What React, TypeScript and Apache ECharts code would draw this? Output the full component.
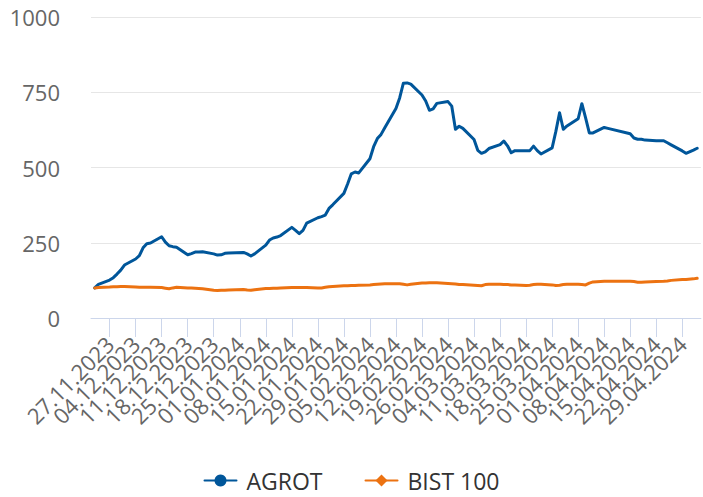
import React, { useEffect, useRef } from "react";
import * as echarts from "echarts";

// Non-trading days (BIST holidays) inside the period
const holidays = ["2024-01-01", "2024-04-10", "2024-04-11", "2024-04-12", "2024-04-23", "2024-05-01"];

// Indexed closing values (start = 100), one per trading day 23.11.2023 – 03.05.2024
const agrot = [
  100, 112,
  126, 134, 146, 159, 176,
  196, 207, 233, 247, 249,
  270, 252, 240, 237, 235,
  210, 214, 219, 219, 220,
  213, 209, 210, 215, 216,
  218, 213, 206, 213,
  242, 259, 266, 269, 274,
  301, 291, 280, 291, 315,
  333, 337, 342, 364, 376,
  414, 445, 479, 485, 482,
  529, 569, 596, 610, 632,
  696, 731, 780, 781, 777,
  741, 721, 690, 695, 713,
  719, 704, 627, 637, 630,
  593, 557, 547, 552, 563,
  576, 588, 572, 549, 556,
  556, 556, 571, 556, 545,
  565, 620, 682, 627, 638,
  662, 712, 665, 615, 615,
  633, 630,
  612, 598, 594, 594, 591,
  589, 589, 582, 575,
  555, 547, 558, 564,
];

const bist100 = [
  100, 101,
  103, 104, 104, 105, 105,
  103, 102, 102, 102, 102,
  101, 99, 97, 100, 102,
  100, 100, 99, 98, 97,
  92, 91, 92, 92, 93,
  95, 93, 92, 94,
  98, 98, 99, 99, 100,
  101, 101, 101, 101, 101,
  100, 100, 102, 104, 105,
  107, 107, 108, 108, 109,
  110, 111, 112, 113, 114,
  114, 114, 112, 110, 112,
  116, 116, 117, 117, 117,
  115, 114, 113, 111, 111,
  109, 108, 107, 111, 112,
  112, 111, 111, 110, 110,
  108, 109, 111, 112, 112,
  110, 108, 109, 111, 112,
  112, 111, 110, 116, 120,
  122, 122,
  122, 121, 119, 119, 120,
  121, 122, 123, 125,
  128, 128, 130, 132,
];

const yTicks = [0, 250, 500, 750, 1000];
const seriesNames = ["AGROT", "BIST 100"];

const DAY = 86400000;
const pad = (n: number) => (n < 10 ? "0" + n : "" + n);
const ymd = (d: Date) => `${d.getFullYear()}-${pad(d.getMonth() + 1)}-${pad(d.getDate())}`;

// x axis: days counted from 22.11.2023 (axis start) to 04.05.2024 (axis end)
const axisStartDate = new Date(2023, 10, 22);
const axisDays = Math.round((new Date(2024, 4, 4).getTime() - axisStartDate.getTime()) / DAY);
const dayOf = (d: Date) => Math.round((d.getTime() - axisStartDate.getTime()) / DAY);
const labelOf = (day: number) => {
  const d = new Date(axisStartDate.getFullYear(), axisStartDate.getMonth(), axisStartDate.getDate() + Math.round(day));
  return `${pad(d.getDate())}.${pad(d.getMonth() + 1)}.${d.getFullYear()}`;
};

const tradingDays: number[] = [];
for (let d = new Date(2023, 10, 23); d <= new Date(2024, 4, 3); d.setDate(d.getDate() + 1)) {
  const wd = d.getDay();
  if (wd === 0 || wd === 6) continue;
  if (holidays.includes(ymd(d))) continue;
  tradingDays.push(dayOf(d));
}

// weekly ticks on Mondays, 27.11.2023 – 29.04.2024
const mondays: number[] = [];
for (let i = 0; i < 23; i++) mondays.push(dayOf(new Date(2023, 10, 27 + 7 * i)));

export default function App() {
  const ref = useRef<HTMLDivElement>(null);
  useEffect(() => {
    if (!ref.current) return;
    const chart = echarts.init(ref.current, undefined, { renderer: "svg" });
    const font = "'Open Sans', 'DejaVu Sans', sans-serif";
    chart.setOption({
      animation: false,
      textStyle: { fontFamily: font },
      grid: { left: 91, right: 0, top: 17, bottom: 179, containLabel: false },
      legend: {
        data: seriesNames,
        left: "center",
        top: 469,
        padding: 0,
        itemWidth: 32,
        itemHeight: 15,
        itemGap: 42,
        textStyle: { fontSize: 23, lineHeight: 23, color: "#333", fontFamily: font, padding: [0, 0, 0, 5] },
      },
      xAxis: {
        type: "value",
        min: 0,
        max: axisDays,
        axisLine: { show: true, onZero: false, lineStyle: { color: "#ccd6eb", width: 1 } },
        axisTick: { show: true, length: 19, lineStyle: { color: "#ccd6eb" }, customValues: mondays },
        axisLabel: {
          // empty labels at the axis ends keep every Monday label visible
          customValues: [0, ...mondays, axisDays],
          hideOverlap: false,
          rotate: 45,
          margin: 22,
          fontSize: 22,
          color: "#666",
          fontFamily: font,
          formatter: (v: number) => (mondays.includes(Math.round(v)) ? labelOf(v) : ""),
        },
        splitLine: { show: false },
      },
      yAxis: {
        type: "value",
        min: yTicks[0],
        max: yTicks[yTicks.length - 1],
        interval: 250,
        axisLine: { show: false },
        axisTick: { show: false },
        axisLabel: { fontSize: 22, color: "#666", margin: 31, fontFamily: font, formatter: (v: number) => String(v) },
        splitLine: { lineStyle: { color: "#e6e6e6", width: 1 } },
      },
      series: [
        {
          name: seriesNames[0],
          type: "line",
          data: tradingDays.map((t, i) => [t, agrot[i]]),
          symbol: "circle",
          showSymbol: false,
          color: "#00569A",
          lineStyle: { width: 3, color: "#00569A", join: "round", cap: "round" },
        },
        {
          name: seriesNames[1],
          type: "line",
          data: tradingDays.map((t, i) => [t, bist100[i]]),
          symbol: "diamond",
          showSymbol: false,
          color: "#EC7211",
          lineStyle: { width: 3, color: "#EC7211", join: "round", cap: "round" },
        },
      ],
    });
    return () => chart.dispose();
  }, []);
  return <div ref={ref} style={{ width: 703, height: 497, position: "absolute", left: 0, top: 0 }} />;
}
